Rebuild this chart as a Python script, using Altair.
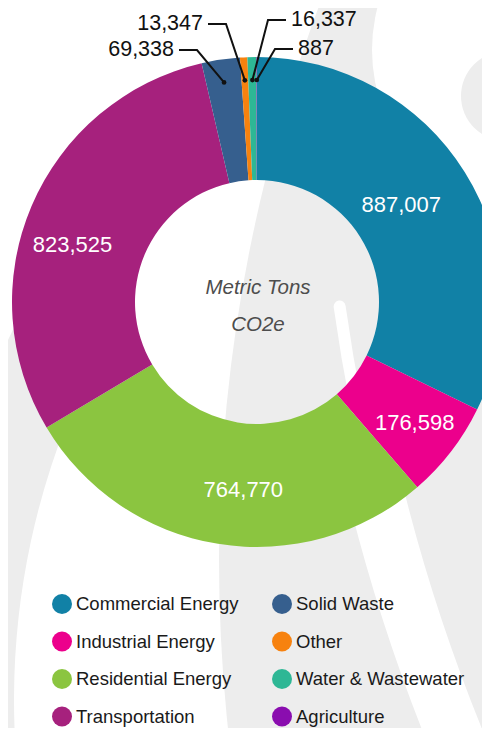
import math
import altair as alt
import pandas as pd

# ---------------- data ----------------
categories = ["Commercial Energy", "Industrial Energy", "Residential Energy",
              "Transportation", "Solid Waste", "Other",
              "Water & Wastewater", "Agriculture"]
values = [887007, 176598, 764770, 823525, 69338, 13347, 16337, 887]
colors = ["#1181A6", "#EC008C", "#8BC540", "#A6217D",
          "#365F8E", "#F7820F", "#2EB795", "#8A0DAF"]

# ---------------- layout constants ----------------
W, H = 474, 720
CX, CY = 249, 294          # donut centre (chart px)
R_OUT, R_IN = 245, 122
R_DOT = 222
FONT = "Liberation Sans, Arial, sans-serif"

# inside labels: radius and small angular nudge (degrees) from slice mid-angle
inside_r = {"Commercial Energy": 174, "Industrial Energy": 199,
            "Residential Energy": 188, "Transportation": 193}
inside_nudge = {"Commercial Energy": -2, "Industrial Energy": 0,
                "Residential Energy": -5, "Transportation": -6}

# callout layout for the small slices (elbow point, side of the text)
callout_elbow_x = {"Solid Waste": 189, "Other": 218, "Water & Wastewater": 260, "Agriculture": 267}
callout_elbow_y = {"Solid Waste": 42, "Other": 16, "Water & Wastewater": 12, "Agriculture": 41}
callout_side = {"Solid Waste": -1, "Other": -1, "Water & Wastewater": 1, "Agriculture": 1}
HLEN = 18
TEXT_GAP = 5

df = pd.DataFrame({"category": categories, "value": values,
                   "order": range(len(categories))})

total = sum(values)
cum = 0
lines, dots, texts, inner = [], [], [], []
for c, v in zip(categories, values):
    mid = (cum + v / 2) / total * 2 * math.pi
    cum += v
    lab = f"{v:,}"
    if c in inside_r:
        a = mid + math.radians(inside_nudge[c])
        inner.append({"category": c, "label": lab,
                      "px": CX + inside_r[c] * math.sin(a),
                      "py": CY - inside_r[c] * math.cos(a)})
        continue
    dx, dy = CX + R_DOT * math.sin(mid), CY - R_DOT * math.cos(mid)
    ex, ey = callout_elbow_x[c], callout_elbow_y[c]
    s = callout_side[c]
    hx = ex + s * HLEN
    for i, (px, py) in enumerate([(dx, dy), (ex, ey), (hx, ey)]):
        lines.append({"category": c, "i": i, "px": px, "py": py})
    dots.append({"category": c, "px": dx, "py": dy})
    texts.append({"category": c, "px": hx + s * TEXT_GAP, "py": ey,
                  "label": lab, "side": s})
lines_df = pd.DataFrame(lines)
dots_df = pd.DataFrame(dots)
texts_df = pd.DataFrame(texts)
inner_df = pd.DataFrame(inner)

one = pd.DataFrame({"a": [0]})
BG = "#EDEDED"

def shape(color, cx, cy, r, r2=0, t0=0.0, t1=360.0, corner=0):
    kw = dict(color=color, radius=r, radius2=r2,
              theta=math.radians(t0), theta2=math.radians(t1))
    if corner:
        kw["cornerRadius"] = corner
    return alt.Chart(one).mark_arc(**kw).encode(x=alt.value(cx), y=alt.value(cy))

# ---------------- background swooshes ----------------
bg_layers = [
    shape(BG, 1795, 552, 1584),                                 # big grey field
    shape("white", 532, 42, 168),                               # white top-right
    shape(BG, 498, 88, 45),                                     # grey blob top-right
    shape("white", 2131, 46, 1823, 1811, 255, 262.2, corner=6), # thin white stroke in hole
    shape("white", 2131, 46, 1845, 1789, 238, 257),             # wide white swoosh bottom
    shape(BG, 759, 692, 840, 753, 205, 300),                    # grey crescent on the left
]

# ---------------- donut ----------------
color_scale = alt.Scale(domain=categories, range=colors)

donut = alt.Chart(df).mark_arc(radius=R_OUT, radius2=R_IN).encode(
    theta=alt.Theta("value:Q", stack=True),
    order=alt.Order("order:Q"),
    x=alt.value(CX), y=alt.value(CY),
    color=alt.Color("category:N", scale=color_scale,
                    legend=alt.Legend(
                        title=None, orient="none", legendX=44, legendY=586,
                        columns=2, symbolType="circle", symbolSize=400,
                        symbolStrokeWidth=0, symbolOpacity=1,
                        labelFont=FONT, labelFontSize=18.5, labelColor="#1a1a1a",
                        labelOffset=4, rowPadding=17.5, columnPadding=33,
                        padding=0, labelLimit=300)),
)

inside_text = alt.Chart(inner_df).mark_text(
    font=FONT, fontSize=22, color="white", align="center", baseline="middle"
).encode(x=alt.X("px:Q", scale=None), y=alt.Y("py:Q", scale=None), text="label:N")

center_text = alt.Chart(one).mark_text(
    text=["Metric Tons", "CO2e"], font=FONT, fontSize=20.5, fontStyle="italic",
    color="#4d4d4d", lineHeight=37, align="center", baseline="middle"
).encode(x=alt.value(CX + 1), y=alt.value(280))

# ---------------- callouts ----------------
callout_lines = alt.Chart(lines_df).mark_line(color="#111111", strokeWidth=2).encode(
    x=alt.X("px:Q", scale=None), y=alt.Y("py:Q", scale=None),
    detail="category:N", order="i:Q")
callout_dots = alt.Chart(dots_df).mark_circle(color="#111111", size=22, opacity=1).encode(
    x=alt.X("px:Q", scale=None), y=alt.Y("py:Q", scale=None))
callout_left = alt.Chart(texts_df[texts_df.side < 0]).mark_text(
    font=FONT, fontSize=21.5, color="#111111", align="right", baseline="middle"
).encode(x=alt.X("px:Q", scale=None), y=alt.Y("py:Q", scale=None), text="label:N")
callout_right = alt.Chart(texts_df[texts_df.side > 0]).mark_text(
    font=FONT, fontSize=21.5, color="#111111", align="left", baseline="middle"
).encode(x=alt.X("px:Q", scale=None), y=alt.Y("py:Q", scale=None), text="label:N")

chart = alt.layer(
    *bg_layers,
    donut, inside_text, center_text,
    callout_lines, callout_dots, callout_left, callout_right
).properties(
    width=W, height=H, padding=0,
    autosize=alt.AutoSizeParams(type="none"),
    background="white"
).configure_view(stroke=None)

chart.save("out.html", embed_options={"renderer": "svg", "actions": False})
